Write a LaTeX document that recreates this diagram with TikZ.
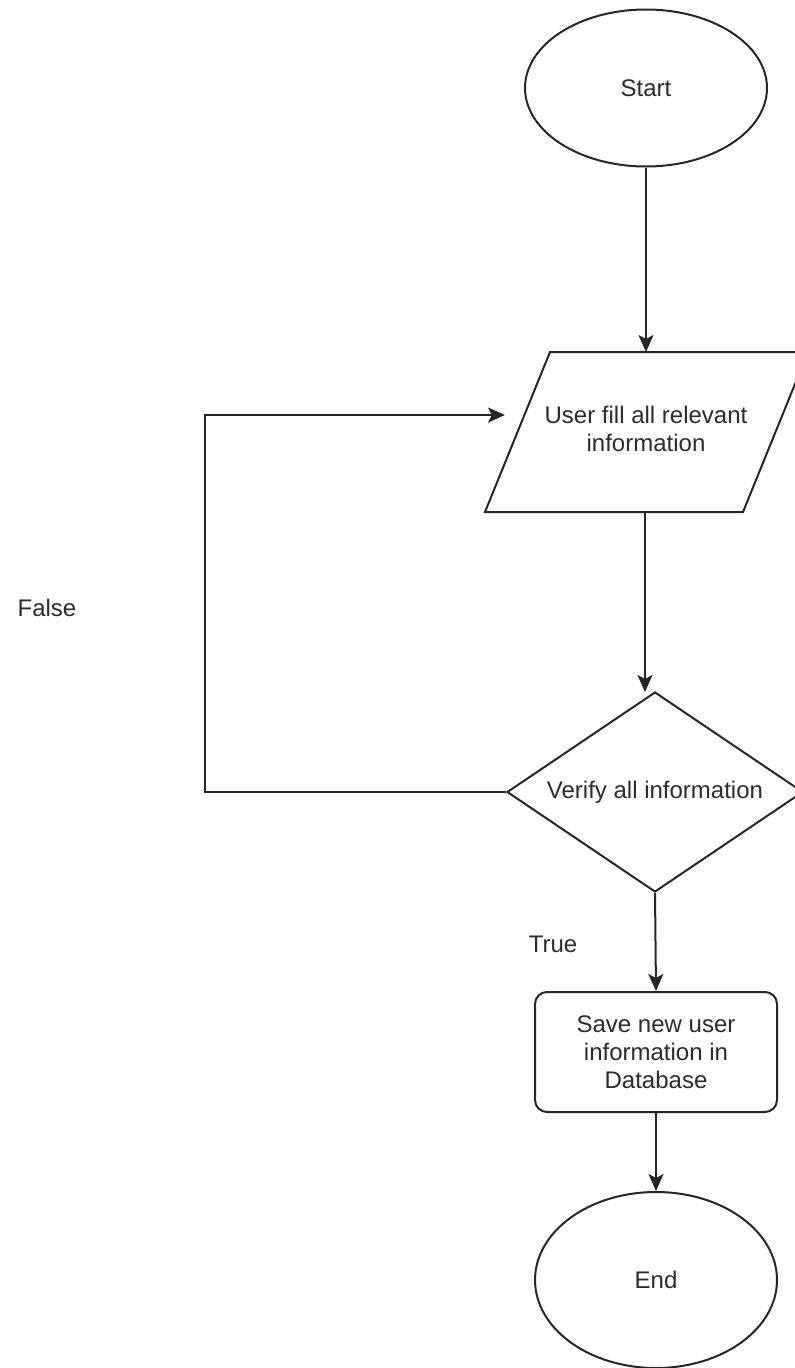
\documentclass[tikz,border=0pt]{standalone}
\usepackage{fontspec}
\setmainfont{Liberation Sans}
\usetikzlibrary{shapes.geometric,arrows.meta}
\definecolor{linec}{HTML}{262626}
\definecolor{textc}{HTML}{2A2A34}
\begin{document}
\begin{tikzpicture}[x=1pt,y=-1pt]
\tikzset{
  shapeline/.style={draw=linec, line width=2pt},
  lbl/.style={font=\fontsize{24}{28}\selectfont, text=textc, align=center},
  arr/.style={draw=linec, line width=2pt, -{Stealth[length=17pt,width=15pt,inset=4pt]}},
}
\useasboundingbox (0,0) rectangle (795,1368);
\clip (0,0) rectangle (795,1368);

% Start
\node[shapeline, lbl, ellipse, minimum width=242pt, minimum height=157pt, inner sep=0pt] (start) at (646,88) {Start};

% Input parallelogram
\draw[shapeline] (550,352) -- (808,352) -- (743,512) -- (485,512) -- cycle;
\node[lbl] (input) at (646,429) {User fill all relevant\\information};
\coordinate (inTop) at (646,352);
\coordinate (inBot) at (645,512);
\coordinate (inLeft) at (505,415);

% Decision
\node[shapeline, lbl, diamond, aspect=1.48, minimum width=296pt, minimum height=200pt, inner sep=0pt] (verify) at (655,792) {Verify all information};
\coordinate (vTop) at (645,692);

% Save
\node[shapeline, lbl, rounded corners=12pt, minimum width=242pt, minimum height=120pt, inner sep=0pt] (save) at (656,1052) {Save new user\\information in\\Database};

% End
\node[shapeline, lbl, ellipse, minimum width=242pt, minimum height=176pt, inner sep=0pt] (end) at (656,1280) {End};

% Connectors
\draw[arr] (start.south) -- (inTop);
\draw[arr] (inBot) -- (vTop);
\draw[arr] (verify.south) -- (save.north);
\draw[arr] (save.south) -- (end.north);
\coordinate (loopA) at (205,792);
\coordinate (loopB) at (205,415);
\draw[arr] (verify.west) -- (loopA) -- (loopB) -- (inLeft);

% Labels
\node[lbl] (false) at (47,608) {False};
\node[lbl] (true) at (553,944) {True};
\end{tikzpicture}
\end{document}
